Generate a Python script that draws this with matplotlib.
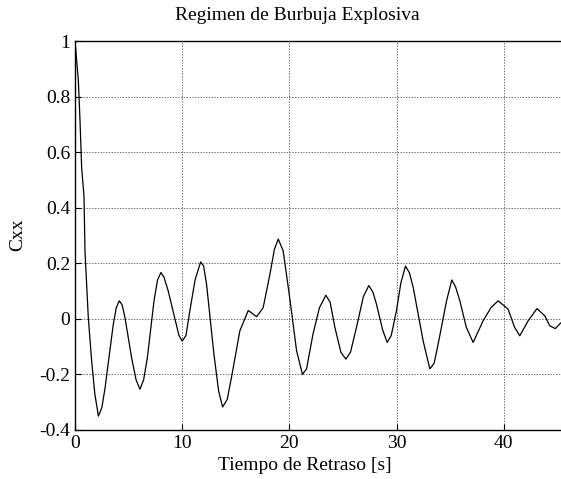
import numpy as np
import matplotlib.pyplot as plt

plt.rcParams['font.family'] = ['Liberation Serif', 'DejaVu Serif']

# lag time [s] and correlation values
lag = [0.0, 0.31, 0.47, 0.62, 0.84, 0.93, 1.24, 1.55, 1.85, 2.18, 2.5, 2.8, 3.2, 3.57, 3.85, 4.13,
       4.4, 4.66, 5.28, 5.7, 6.06, 6.4, 6.75, 7.37, 7.7, 8.02, 8.3, 8.7, 9.32, 9.7, 10.0, 10.35,
       10.72, 11.2, 11.72, 12.0, 12.27, 12.96, 13.4, 13.77, 14.2, 14.6, 15.38, 16.16, 16.94, 17.55,
       18.18, 18.6, 18.96, 19.42, 20.05, 20.67, 21.22, 21.6, 22.2, 22.8, 23.4, 23.8, 24.24, 24.8, 25.27,
       25.7, 26.26, 26.9, 27.41, 27.8, 28.12, 28.7, 29.12, 29.5, 29.99, 30.4, 30.83, 31.2, 31.55, 32.48, 33.1, 33.5,
       33.88, 34.66, 35.15, 35.5, 35.9, 36.5, 37.14, 38.07, 38.8, 39.47, 40.4, 41.0, 41.49, 42.27, 43.1,
       43.82, 44.29, 44.8, 45.3]
cxx = [1.0, 0.86, 0.71, 0.545, 0.44, 0.245, 0.005, -0.15, -0.27, -0.35, -0.32, -0.25, -0.13, -0.02, 0.04, 0.065,
       0.05, 0.005, -0.14, -0.22, -0.253, -0.22, -0.14, 0.065, 0.14, 0.167, 0.15, 0.1, 0.0, -0.06, -0.08, -0.06,
       0.03, 0.14, 0.205, 0.19, 0.125, -0.127, -0.26, -0.317, -0.29, -0.21, -0.043, 0.03, 0.008, 0.04,
       0.16, 0.25, 0.287, 0.245, 0.07, -0.115, -0.2, -0.18, -0.055, 0.04, 0.085, 0.06, -0.03, -0.12, -0.145,
       -0.12, -0.03, 0.08, 0.12, 0.095, 0.053, -0.04, -0.085, -0.06, 0.03, 0.13, 0.19, 0.165, 0.113, -0.08, -0.18, -0.16,
       -0.09, 0.065, 0.14, 0.115, 0.065, -0.03, -0.085, -0.007, 0.04, 0.065, 0.035, -0.03, -0.061, -0.007, 0.037,
       0.011, -0.025, -0.035, -0.015]

xticks = [0, 10, 20, 30, 40]
yticks = [-0.4, -0.2, 0, 0.2, 0.4, 0.6, 0.8, 1]
ylabels = ['-0.4', '-0.2', '0', '0.2', '0.4', '0.6', '0.8', '1']

fig = plt.figure(figsize=(5.61, 4.79), dpi=100)
# axes run past the right edge like the cropped original
ax = fig.add_axes([75/561, 49/479, 536/561, 389/479])
ax.plot(lag, cxx, color='black', lw=0.9)

ax.set_xlim(0, 50)
ax.set_ylim(-0.4, 1)
ax.set_xticks(xticks)
ax.set_xticklabels([str(t) for t in xticks])
ax.set_yticks(yticks)
ax.set_yticklabels(ylabels)
ax.tick_params(direction='in', length=4, labelsize=14, width=0.8)
ax.grid(True, color='black', linestyle=(0, (2, 2)), lw=0.5, alpha=0.8)
for s in ax.spines.values():
    s.set_linewidth(1.0)

fig.text(297/561, 1 - 16/479, 'Regimen de Burbuja Explosiva', ha='center', va='center', fontsize=14)
fig.text(305/561, 1 - 466/479, 'Tiempo de Retraso [s]', ha='center', va='center', fontsize=14)
fig.text(18/561, 1 - 235/479, 'Cxx', ha='center', va='center', rotation=90, fontsize=14)

fig.savefig('out.png', dpi=100)
